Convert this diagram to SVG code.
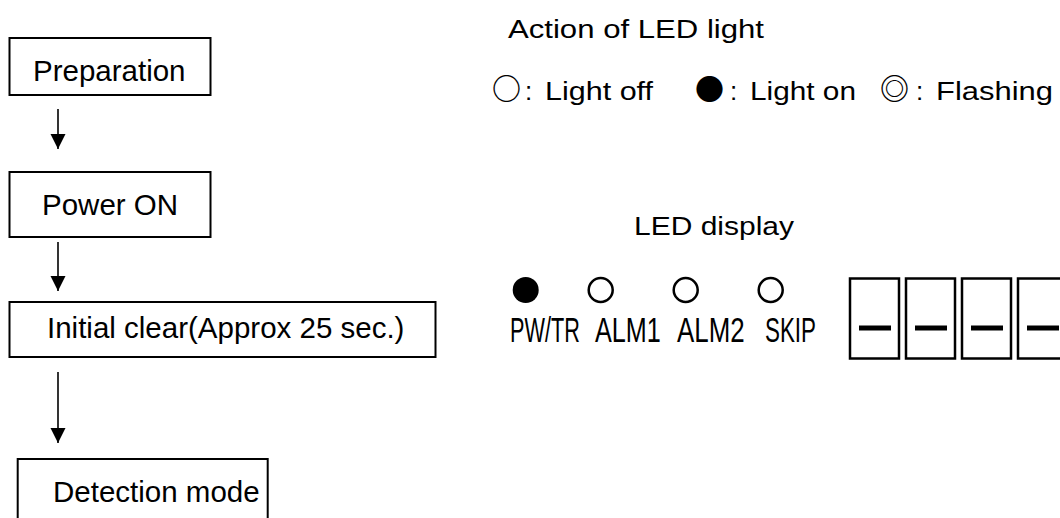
<svg xmlns="http://www.w3.org/2000/svg" width="1060" height="518" viewBox="0 0 1060 518">
  <defs>
    <style>
      .box { fill: #fff; stroke: #000; stroke-width: 2; }
      .ft { font-family: "Liberation Sans", Arial, sans-serif; font-size: 29.5px; fill: #000; }
      .rt { font-family: "Liberation Sans", Arial, sans-serif; font-size: 26px; fill: #000; }
      .sym { font-family: "Noto Sans CJK JP", "DejaVu Sans", sans-serif; font-size: 29px; font-weight: bold; fill: #000; }
      .lbl { font-family: "Liberation Sans", Arial, sans-serif; font-size: 35px; fill: #000; }
      .conn { stroke: #000; stroke-width: 1.6; fill: none; marker-end: url(#arrow); }
      .seg { fill: #fff; stroke: #000; stroke-width: 2.5; }
      .dash { fill: #000; }
      .led-off { fill: #fff; stroke: #000; stroke-width: 2.5; }
      .led-on { fill: #000; }
    </style>
    <marker id="arrow" markerWidth="16" markerHeight="16" refX="15" refY="7.5" orient="auto" markerUnits="userSpaceOnUse">
      <path d="M0,0 L15,7.5 L0,15 Z" fill="#000"/>
    </marker>
  </defs>
  <rect width="1060" height="518" fill="#fff"/>

  <g id="connectors">
    <line class="conn" x1="58" y1="109" x2="58" y2="149"/>
    <line class="conn" x1="58" y1="242" x2="58" y2="291"/>
    <line class="conn" x1="58" y1="372" x2="58" y2="443"/>
  </g>

  <g id="node-preparation">
    <rect class="box" x="9.5" y="38" width="201" height="57"/>
    <text class="ft" x="33" y="81">Preparation</text>
  </g>
  <g id="node-power-on">
    <rect class="box" x="9.5" y="172" width="201" height="65"/>
    <text class="ft" x="42" y="215">Power ON</text>
  </g>
  <g id="node-initial-clear">
    <rect class="box" x="9.5" y="302" width="426" height="55"/>
    <text class="ft" x="47" y="338">Initial clear(Approx 25 sec.)</text>
  </g>
  <g id="node-detection">
    <rect class="box" x="17.7" y="459" width="250" height="80"/>
    <text class="ft" x="53" y="502">Detection mode</text>
  </g>

  <g id="legend">
    <text class="rt" x="508" y="38" textLength="256" lengthAdjust="spacingAndGlyphs">Action of LED light</text>
    <text y="100"><tspan class="sym" x="492">○</tspan><tspan class="rt" x="525">:</tspan><tspan class="rt" x="545" textLength="108" lengthAdjust="spacingAndGlyphs">Light off</tspan></text>
    <text y="100"><tspan class="sym" x="695">●</tspan><tspan class="rt" x="730">:</tspan><tspan class="rt" x="750" textLength="106" lengthAdjust="spacingAndGlyphs">Light on</tspan></text>
    <text y="100"><tspan class="sym" x="880">◎</tspan><tspan class="rt" x="916">:</tspan><tspan class="rt" x="936" textLength="117" lengthAdjust="spacingAndGlyphs">Flashing</tspan></text>
  </g>

  <g id="led-display">
    <text class="rt" x="634" y="235" textLength="160" lengthAdjust="spacingAndGlyphs">LED display</text>
    <circle class="led-on" cx="525.7" cy="290" r="13"/>
    <circle class="led-off" cx="600.7" cy="290" r="12"/>
    <circle class="led-off" cx="685.7" cy="290" r="12"/>
    <circle class="led-off" cx="770.7" cy="290" r="12"/>
    <text class="lbl" transform="translate(510,341.5) scale(0.62,1)">PW/TR</text>
    <text class="lbl" transform="translate(595,341.5) scale(0.72,1)">ALM1</text>
    <text class="lbl" transform="translate(677,341.5) scale(0.74,1)">ALM2</text>
    <text class="lbl" transform="translate(765,341.5) scale(0.64,1)">SKIP</text>
  </g>

  <g id="seven-seg">
    <rect class="seg" x="850" y="278.5" width="49" height="80"/>
    <rect class="seg" x="906" y="278.5" width="49" height="80"/>
    <rect class="seg" x="962" y="278.5" width="49" height="80"/>
    <rect class="seg" x="1018" y="278.5" width="49" height="80"/>
    <rect class="dash" x="859" y="325.5" width="32" height="5"/>
    <rect class="dash" x="915" y="325.5" width="32" height="5"/>
    <rect class="dash" x="971" y="325.5" width="32" height="5"/>
    <rect class="dash" x="1027" y="325.5" width="32" height="5"/>
  </g>
</svg>
